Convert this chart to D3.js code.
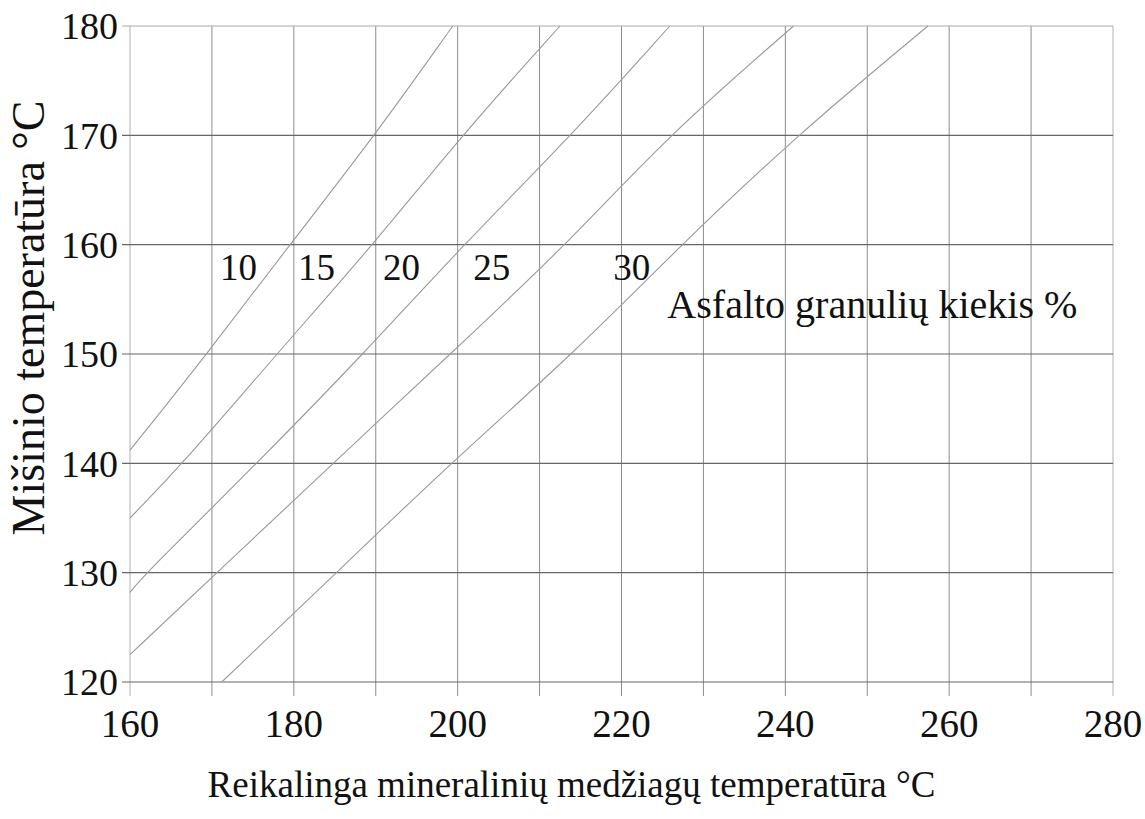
<!DOCTYPE html>
<html>
<head>
<meta charset="utf-8">
<script src="https://cdn.jsdelivr.net/npm/d3@7"></script>
<style>
  html, body { margin: 0; padding: 0; background: #fff; }
  svg { display: block; }
  text { font-family: "Liberation Serif", "Times New Roman", serif; fill: #111; }
</style>
</head>
<body>
<svg id="chart" width="1145" height="819"></svg>
<script>
// ---- data ----
const xTicks = [160, 180, 200, 220, 240, 260, 280];
const xGrid = [160, 170, 180, 190, 200, 210, 220, 230, 240, 250, 260, 270, 280];
const yTicks = [120, 130, 140, 150, 160, 170, 180];
const seriesNames = ["10", "15", "20", "25", "30"];
// points (mineral temperature, mix temperature)
const line10 = [[160, 141.2], [169.4, 150], [179.5, 160], [189.9, 170], [199.4, 180]];
const line15 = [[160, 135.0], [166.5, 140], [177.9, 150], [189.7, 160], [200.5, 170], [212.5, 180]];
const line20 = [[160, 128.2], [162.0, 130], [175.5, 140], [188.5, 150], [200.7, 160], [213.9, 170], [225.9, 180]];
const line25 = [[160, 122.5], [170.6, 130], [184.8, 140], [199.1, 150], [213.3, 160], [225.7, 170], [241.0, 180]];
const line30 = [[171.2, 120], [185.2, 130], [199.1, 140], [214.1, 150], [227.3, 160], [241.4, 170], [257.4, 180]];
const labelX = [171.0, 180.5, 190.9, 201.9, 219.0];
const labelY = 156.8;
const noteText = "Asfalto granulių kiekis %";
const noteX = 225.6, noteY = 153.3;
const xTitle = "Reikalinga mineralinių medžiagų temperatūra °C";
const yTitle = "Mišinio temperatūra °C";

// ---- layout ----
const svg = d3.select("#chart");
const margin = {left: 130, top: 26, right: 32, bottom: 137};
const W = 1145, H = 819;
const x = d3.scaleLinear().domain([160, 280]).range([margin.left, W - margin.right]);
const y = d3.scaleLinear().domain([120, 180]).range([H - margin.bottom, margin.top]);

const g = svg.append("g");

// vertical grid lines with ticks below
g.selectAll("line.vg").data(xGrid).join("line")
  .attr("class", "vg")
  .attr("x1", d => x(d)).attr("x2", d => x(d))
  .attr("y1", y(180)).attr("y2", y(120) + 14)
  .attr("stroke", d => (d === 160 || d === 280) ? "#b0b0b0" : "#8c8c8c")
  .attr("stroke-width", 1);

// horizontal grid lines with ticks left
g.selectAll("line.hg").data(yTicks).join("line")
  .attr("class", "hg")
  .attr("x1", x(160) - 8).attr("x2", x(280))
  .attr("y1", d => y(d)).attr("y2", d => y(d))
  .attr("stroke", d => d === 180 ? "#aaa" : "#666")
  .attr("stroke-width", 1.1);

// curves
const lineGen = d3.line().x(d => x(d[0])).y(d => y(d[1])).curve(d3.curveBasis);
const allLines = [line10, line15, line20, line25, line30];
g.selectAll("path.curve").data(allLines).join("path")
  .attr("class", "curve")
  .attr("d", lineGen)
  .attr("fill", "none")
  .attr("stroke", "#9a9a9a")
  .attr("stroke-width", 1.1);

// tick labels
g.selectAll("text.yt").data(yTicks).join("text")
  .attr("class", "yt")
  .attr("x", x(160) - 12)
  .attr("y", d => y(d))
  .attr("dy", "0.35em")
  .attr("text-anchor", "end")
  .attr("font-size", 38)
  .text(d => d);

g.selectAll("text.xt").data(xTicks).join("text")
  .attr("class", "xt")
  .attr("x", d => x(d))
  .attr("y", y(120) + 55)
  .attr("text-anchor", "middle")
  .attr("font-size", 39)
  .text(d => d);

// series labels
g.selectAll("text.sl").data(seriesNames).join("text")
  .attr("class", "sl")
  .attr("x", (d, i) => x(labelX[i]))
  .attr("y", y(labelY))
  .attr("font-size", 37)
  .text(d => d);

g.append("text")
  .attr("x", x(noteX)).attr("y", y(noteY))
  .attr("font-size", 40)
  .text(noteText);

// axis titles
g.append("text")
  .attr("x", (x(160) + x(280)) / 2 - 50)
  .attr("y", 797)
  .attr("text-anchor", "middle")
  .attr("font-size", 37)
  .text(xTitle);

g.append("text")
  .attr("transform", `translate(44, 318) rotate(-90)`)
  .attr("text-anchor", "middle")
  .attr("font-size", 46)
  .text(yTitle);
</script>
</body>
</html>
